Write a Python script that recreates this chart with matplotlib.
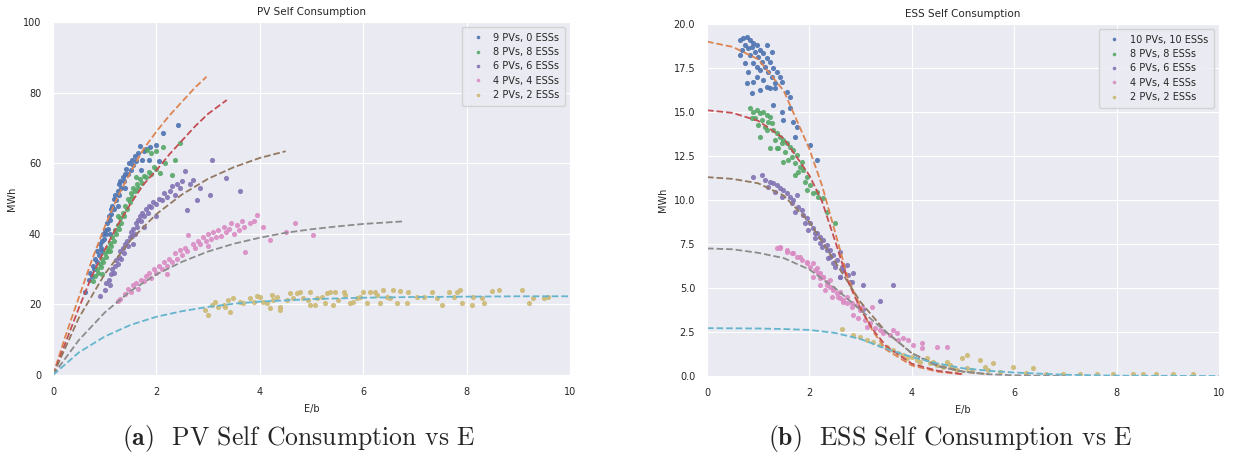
import matplotlib
matplotlib.use("Agg")
import matplotlib.pyplot as plt
import seaborn as sns

# -------------------- PV self consumption (left panel) --------------------
pv_labels = ["9 PVs, 0 ESSs", "8 PVs, 8 ESSs", "6 PVs, 6 ESSs", "4 PVs, 4 ESSs", "2 PVs, 2 ESSs"]

pv9_x = [0.62, 0.70, 0.72, 0.75, 0.78, 0.80, 0.82, 0.85, 0.86, 0.88, 0.90, 0.92, 0.95, 0.97, 0.98, 1.00, 1.02,
         1.05, 1.06, 1.08, 1.10, 1.12, 1.13, 1.15, 1.17, 1.18, 1.20, 1.22, 1.25, 1.27, 1.28, 1.30, 1.32, 1.35,
         1.37, 1.40, 1.42, 1.45, 1.47, 1.50, 1.52, 1.55, 1.58, 1.60, 1.65, 1.68, 1.72, 1.75, 1.80, 1.88, 2.00,
         2.13, 2.42, 1.10, 0.95, 1.25, 1.40, 1.70, 1.85, 2.05]
pv9_y = [23.5, 27, 29, 28, 31, 30, 33, 32, 35, 34, 37, 36, 38, 40, 38.5, 41, 40,
         43, 41.5, 45, 44, 47, 45.5, 48, 50, 47, 51, 49.5, 52, 54, 51, 55, 53, 56,
         55, 57, 58.5, 57, 60, 58, 61, 59.5, 62, 60.5, 63, 65, 61, 63.5, 64, 64.7, 65.2,
         68.5, 70.8, 40, 35, 48, 53, 58, 61, 60.5]

pv8_x = [0.78, 0.82, 0.85, 0.87, 0.90, 0.92, 0.95, 0.97, 1.00, 1.02, 1.05, 1.07, 1.10, 1.12, 1.15, 1.18, 1.20,
         1.22, 1.25, 1.28, 1.30, 1.32, 1.35, 1.38, 1.40, 1.43, 1.45, 1.48, 1.50, 1.53, 1.55, 1.58, 1.62, 1.65,
         1.68, 1.72, 1.75, 1.80, 1.85, 1.90, 1.95, 2.00, 1.81, 1.90, 2.00, 2.07, 2.13, 2.17, 2.30, 2.36, 2.46,
         1.25, 1.10, 0.95, 1.60]
pv8_y = [26.5, 28, 30, 29, 31.5, 30.5, 33, 32, 34.5, 33.5, 36, 35, 37.5, 36.5, 39, 38, 41,
         40, 42.5, 41.5, 44.5, 43, 46, 45, 48, 47, 50, 49, 51.5, 50.5, 53, 52, 54, 53,
         55.5, 54.5, 56.5, 56, 57.5, 57, 59, 58.5, 63.7, 63, 63.5, 57.1, 64.7, 60, 56.7, 60.9, 65.6,
         45, 35, 28.5, 56]

pv6_x = [0.90, 1.00, 1.02, 1.08, 1.10, 1.12, 1.15, 1.18, 1.20, 1.22, 1.25, 1.28, 1.30, 1.32, 1.35, 1.38, 1.40,
         1.43, 1.45, 1.48, 1.50, 1.53, 1.55, 1.58, 1.60, 1.63, 1.65, 1.68, 1.70, 1.73, 1.76, 1.80, 1.83, 1.86,
         1.90, 1.94, 2.00, 2.05, 2.10, 2.15, 2.20, 2.26, 2.30, 2.35, 2.40, 2.46, 2.50, 2.55, 2.59, 2.65, 2.71,
         2.78, 2.85, 3.04, 3.08, 3.35, 3.62, 1.55, 1.75, 2.00]
pv6_y = [22.5, 24, 26, 27, 25.5, 28.5, 30, 29, 31, 32.5, 31.5, 33.5, 35, 33, 36, 34.5, 37,
         38, 36.5, 39, 40.5, 39.5, 41.5, 40, 43, 42, 44, 45, 43.5, 46, 45, 47, 46, 48,
         47.5, 49, 48.5, 50, 49.5, 51.5, 50.5, 52, 53.5, 51, 54, 53, 55, 57.9, 46.7, 54, 55.2,
         49.6, 53, 51, 60.9, 55.7, 52.2, 37, 42, 45]

pv4_x = [1.25, 1.30, 1.40, 1.45, 1.50, 1.55, 1.60, 1.65, 1.70, 1.75, 1.80, 1.85, 1.90, 1.95, 2.00, 2.05, 2.10,
         2.15, 2.20, 2.25, 2.30, 2.35, 2.40, 2.45, 2.50, 2.55, 2.60, 2.62, 2.70, 2.75, 2.80, 2.85, 2.90, 2.95,
         3.00, 3.05, 3.10, 3.15, 3.20, 3.25, 3.30, 3.35, 3.40, 3.45, 3.50, 3.55, 3.60, 3.65, 3.70, 3.71, 3.80,
         3.88, 3.94, 4.07, 4.20, 4.51, 4.68, 5.03, 2.20, 3.00]
pv4_y = [21, 21.5, 23, 24.5, 23.5, 25.5, 26, 24.5, 27, 26.5, 28, 29, 27.5, 30, 29, 31, 30,
         32, 31, 33, 32, 34.5, 33, 35.5, 34, 36, 35, 39.7, 37, 36, 38, 37, 39, 38,
         40, 38.5, 40.5, 39, 41, 39.5, 42, 40.5, 41.5, 43, 40, 42.5, 41, 43.5, 42, 34.9, 43,
         43.7, 45.3, 42, 38.2, 40.6, 43.1, 39.7, 28.5, 36.5]

pv2_x = [2.94, 3.00, 3.07, 3.13, 3.20, 3.30, 3.33, 3.39, 3.42, 3.49, 3.62, 3.68, 3.81, 3.88, 3.94, 4.00, 4.07,
         4.13, 4.20, 4.23, 4.26, 4.33, 4.39, 4.39, 4.52, 4.59, 4.65, 4.71, 4.78, 4.84, 4.94, 4.97, 4.97, 5.07,
         5.10, 5.20, 5.26, 5.29, 5.36, 5.42, 5.46, 5.52, 5.62, 5.65, 5.75, 5.81, 5.88, 5.94, 6.00, 6.07, 6.13,
         6.23, 6.26, 6.33, 6.39, 6.46, 6.52, 6.58, 6.65, 6.71, 6.84, 6.87, 7.04, 7.17, 7.33, 7.42, 7.52, 7.65,
         7.75, 7.81, 7.87, 7.91, 8.10, 8.13, 8.29, 8.33, 8.49, 8.62, 9.07, 9.20, 9.29, 9.49, 9.58]
pv2_y = [18.4, 17.0, 19.8, 20.8, 19.4, 19.8, 19.2, 21.2, 17.9, 21.7, 20.8, 20.3, 21.7, 20.8, 22.4, 22.2, 20.8,
         20.3, 18.9, 22.7, 21.2, 22.2, 19.4, 18.4, 21.2, 23.1, 21.7, 23.1, 23.6, 21.7, 21.2, 23.6, 19.8, 19.8,
         21.7, 22.2, 20.3, 23.1, 23.6, 19.8, 23.6, 21.2, 23.6, 22.7, 20.3, 20.8, 21.7, 22.2, 23.6, 20.3, 23.6,
         23.6, 22.7, 20.3, 24.1, 22.2, 21.7, 24.1, 20.3, 23.9, 20.3, 23.6, 22.2, 22.2, 23.6, 21.7, 19.8, 23.6,
         22.2, 23.6, 24.1, 20.3, 19.8, 22.2, 21.7, 20.3, 23.9, 24.1, 24.1, 20.3, 21.7, 21.7, 22.2]

# fitted curves
pv9_fit_x = [0, 0.25, 0.5, 0.75, 1.0, 1.25, 1.5, 1.75, 2.0, 2.25, 2.5, 2.75, 2.97]
pv9_fit_y = [0, 11.5, 22, 32.5, 42, 50.5, 57.5, 64, 69, 73.5, 77.5, 81.5, 84.5]
pv8_fit_x = [0, 0.25, 0.5, 0.75, 1.0, 1.25, 1.5, 1.75, 2.0, 2.25, 2.5, 2.75, 3.0, 3.36]
pv8_fit_y = [0, 9.5, 19, 28, 35.5, 42.5, 48.5, 54, 58, 62.5, 66.5, 70.5, 74, 77.9]
pv6_fit_x = [0, 0.5, 1.0, 1.5, 2.0, 2.5, 3.0, 3.5, 4.0, 4.5]
pv6_fit_y = [0, 16.2, 28.6, 38.2, 45.6, 51.2, 55.6, 58.9, 61.5, 63.4]
pv4_fit_x = [0, 0.5, 1.0, 1.5, 2.0, 2.5, 3.0, 3.5, 4.0, 4.5, 5.0, 5.5, 6.0, 6.75]
pv4_fit_y = [0, 9.9, 17.7, 23.8, 28.5, 32.1, 35.0, 37.2, 38.9, 40.3, 41.3, 42.1, 42.8, 43.5]
pv2_fit_x = [0, 0.5, 1.0, 1.5, 2.0, 2.5, 3.0, 3.5, 4.0, 5.0, 6.0, 7.0, 8.0, 9.0, 10.0]
pv2_fit_y = [0, 6.4, 10.9, 14.2, 16.5, 18.1, 19.3, 20.2, 20.8, 21.5, 21.9, 22.1, 22.2, 22.3, 22.3]

# -------------------- ESS self consumption (right panel) --------------------
ess_labels = ["10 PVs, 10 ESSs", "8 PVs, 8 ESSs", "6 PVs, 6 ESSs", "4 PVs, 4 ESSs", "2 PVs, 2 ESSs"]

ess10_x = [0.645, 0.71, 0.775, 0.84, 0.905, 0.742, 0.807, 0.872, 0.97, 0.677, 0.938, 1.035, 1.10, 1.003, 0.84,
           1.165, 1.23, 1.068, 0.905, 0.742, 1.133, 1.296, 1.198, 1.035, 1.36, 1.426, 1.263, 1.10, 0.97, 1.458,
           1.328, 0.775, 0.905, 1.23, 1.035, 0.872, 1.556, 1.621, 1.165, 1.328, 1.296, 1.458, 1.491, 1.686,
           1.621, 1.751, 1.719, 2.012, 2.142, 0.645, 0.97, 0.807, 1.165, 1.263]
ess10_y = [19.09, 19.19, 19.24, 19.09, 18.90, 18.81, 18.62, 18.71, 18.81, 18.52, 18.43, 18.52, 18.33, 18.14, 18.24,
           18.05, 17.86, 17.86, 17.77, 17.77, 17.58, 17.48, 17.29, 17.39, 17.29, 17.01, 17.01, 16.82, 17.01, 16.72,
           16.63, 16.63, 16.72, 16.35, 16.25, 16.06, 16.16, 15.87, 16.44, 16.35, 15.40, 15.02, 14.55, 14.45,
           15.21, 14.17, 13.60, 13.13, 12.27, 18.24, 17.58, 17.29, 18.81, 18.43]

ess8_x = [0.84, 0.905, 0.97, 1.035, 1.10, 1.165, 1.23, 0.938, 1.068, 1.198, 0.872, 1.003, 1.133, 1.263, 1.035,
          1.296, 1.36, 1.426, 1.328, 1.491, 1.556, 1.393, 1.621, 1.686, 1.523, 1.751, 1.654, 1.589, 1.491, 1.719,
          1.817, 1.882, 1.784, 1.719, 1.947, 1.914, 2.012, 1.947, 2.077, 2.174, 2.142, 2.272, 2.337, 2.50,
          1.23, 1.36, 1.165, 1.458, 1.849]
ess8_y = [15.21, 15.02, 15.11, 14.93, 15.02, 14.83, 14.74, 14.64, 14.55, 14.45, 14.64, 14.26, 14.17, 14.36, 13.60,
          13.98, 13.79, 13.60, 13.41, 13.41, 13.22, 12.94, 13.03, 12.84, 12.75, 12.56, 12.46, 12.27, 12.18, 12.08,
          11.89, 11.70, 11.61, 11.42, 11.33, 11.04, 10.85, 10.57, 10.38, 10.19, 10.47, 10.10, 9.34, 8.67,
          12.94, 12.94, 13.98, 13.22, 12.18]

ess6_x = [0.905, 1.068, 1.133, 1.23, 1.296, 1.36, 1.198, 1.426, 1.491, 1.328, 1.556, 1.621, 1.458, 1.686, 1.751,
          1.654, 1.784, 1.849, 1.719, 1.882, 1.947, 2.012, 1.914, 2.077, 1.979, 2.142, 2.207, 2.109, 2.272, 2.337,
          2.24, 2.402, 2.37, 2.467, 2.533, 2.598, 2.50, 2.663, 2.598, 2.76, 2.826, 2.11, 2.21, 2.34, 2.40, 2.47,
          2.63, 2.73, 2.60, 2.79, 2.86, 3.05, 3.37, 3.64, 3.05]
ess6_y = [11.33, 11.42, 11.14, 11.04, 10.95, 10.85, 10.76, 10.66, 10.57, 10.47, 10.38, 10.19, 10.19, 10.00, 10.28,
          9.81, 9.62, 9.43, 9.34, 9.15, 8.96, 8.67, 8.67, 8.39, 8.30, 8.11, 7.92, 7.82, 7.73, 7.44,
          7.35, 7.16, 6.69, 6.88, 6.59, 7.07, 6.21, 6.02, 5.64, 5.74, 5.36, 8.10, 7.54, 7.16, 6.78, 6.40,
          6.21, 6.30, 5.64, 5.36, 5.83, 5.17, 4.28, 5.17, 3.80]

ess4_x = [1.36, 1.426, 1.556, 1.654, 1.751, 1.849, 1.947, 2.012, 2.109, 2.174, 2.077, 2.207, 2.272, 2.337, 2.207,
          2.402, 2.305, 2.467, 2.533, 2.435, 2.598, 2.663, 2.728, 2.826, 2.923, 3.02, 3.216,
          1.426, 1.556, 1.686, 1.817, 1.947, 2.077, 2.142, 2.207, 2.272, 2.402, 2.337, 2.468, 2.598, 2.565,
          2.663, 2.728, 2.826, 2.858, 2.988, 2.956, 3.086, 3.184, 3.119, 3.281, 3.379, 3.444, 3.574, 3.64,
          3.705, 3.737, 3.835, 3.932, 4.03, 4.193, 4.193, 4.486, 4.68]
ess4_y = [7.25, 7.35, 7.06, 6.97, 6.78, 6.59, 6.40, 6.21, 6.02, 5.83, 5.64, 5.55, 5.64, 5.36, 5.17,
          5.08, 4.89, 4.89, 4.70, 4.51, 4.41, 4.22, 4.51, 4.13, 4.03, 3.94, 3.94,
          7.25, 7.16, 6.97, 6.78, 6.50, 6.40, 6.12, 5.83, 5.64, 5.45, 5.17, 4.98, 4.79, 4.51,
          4.32, 4.13, 3.94, 3.47, 3.75, 3.28, 3.18, 2.99, 2.80, 2.71, 2.61, 2.42, 2.33, 2.61,
          2.42, 2.05, 2.14, 2.05, 1.76, 1.86, 1.57, 1.67, 1.67]

ess2_x = [2.63, 2.858, 2.988, 3.119, 3.249, 3.379, 3.509, 3.64, 3.737, 3.835, 3.90, 3.997, 4.095, 4.16, 4.29,
          4.356, 4.42, 4.486, 4.616, 4.68, 4.746, 4.811, 4.876, 4.974, 5.07, 5.07, 5.17, 5.33, 5.43, 5.495,
          5.59, 5.72, 5.98, 6.24, 6.37, 6.63, 6.96, 7.29, 7.61, 7.94, 8.33, 8.52, 8.78, 9.11, 9.50]
ess2_y = [2.67, 2.33, 2.24, 2.05, 1.95, 1.76, 1.67, 1.48, 1.29, 1.20, 1.00, 1.10, 0.91, 0.81, 1.00,
          0.72, 0.81, 0.62, 0.53, 0.81, 0.62, 0.43, 0.34, 1.00, 1.20, 0.43, 0.34, 0.91, 0.53, 0.34,
          0.72, 0.25, 0.53, 0.15, 0.43, 0.12, 0.10, 0.10, 0.10, 0.10, 0.10, 0.10, 0.10, 0.10, 0.10]

ess10_fit_x = [0, 0.5, 1.0, 1.5, 2.0, 2.25, 2.5, 2.75, 3.0, 3.25, 3.5, 4.0, 4.5, 5.0]
ess10_fit_y = [19.0, 18.7, 18.0, 16.2, 12.9, 10.8, 8.2, 5.6, 3.9, 2.5, 1.5, 0.6, 0.25, 0.1]
ess8_fit_x = [0, 0.5, 1.0, 1.5, 2.0, 2.25, 2.5, 2.75, 3.0, 3.25, 3.5, 4.0, 4.5, 5.0]
ess8_fit_y = [15.1, 14.95, 14.5, 13.5, 11.4, 9.9, 7.7, 5.4, 3.8, 2.6, 1.7, 0.7, 0.3, 0.1]
ess6_fit_x = [0, 0.5, 1.0, 1.5, 2.0, 2.5, 3.0, 3.5, 4.0, 4.5, 5.0, 5.5]
ess6_fit_y = [11.3, 11.2, 10.95, 10.25, 8.75, 6.5, 4.2, 2.5, 1.3, 0.6, 0.25, 0.1]
ess4_fit_x = [0, 0.5, 1.0, 1.5, 2.0, 2.5, 3.0, 3.5, 4.0, 4.5, 5.0, 5.5, 6.0, 7.0]
ess4_fit_y = [7.25, 7.2, 7.0, 6.7, 6.05, 5.0, 3.75, 2.5, 1.3, 0.55, 0.25, 0.1, 0.04, 0.0]
ess2_fit_x = [0, 1.0, 1.5, 2.0, 2.5, 3.0, 3.5, 4.0, 4.5, 5.0, 5.5, 6.0, 7.0, 8.0, 10.0]
ess2_fit_y = [2.72, 2.70, 2.67, 2.62, 2.45, 2.1, 1.55, 1.08, 0.72, 0.44, 0.3, 0.2, 0.07, 0.02, 0.0]


sns.set_style("darkgrid")
plt.rcParams['font.family'] = ['DejaVu Sans']
plt.rcParams['mathtext.fontset'] = 'cm'
pal = sns.color_palette("deep")

fig = plt.figure(figsize=(12.39, 4.58), dpi=100)
ax1 = fig.add_axes([0.0428, 0.1812, 0.4173, 0.7707])
ax2 = fig.add_axes([0.5706, 0.179, 0.4132, 0.7686])


def draw_panel(ax, scatters, fits, labels):
    for i, (xs, ys) in enumerate(scatters):
        ax.plot(xs, ys, 'o', ms=3.7, mew=0, alpha=0.9, color=pal[2 * i], label=labels[i])
    for i, (xs, ys) in enumerate(fits):
        ax.plot(xs, ys, '--', lw=1.3, color=pal[2 * i + 1])
    ax.set_xlim(0, 10)
    ax.set_xlabel('E/b', fontsize=7, labelpad=5)
    ax.set_ylabel('MWh', fontsize=7, labelpad=4)
    ax.tick_params(labelsize=7, pad=5)
    leg = ax.legend(loc='upper right', fontsize=7, markerscale=0.7, handletextpad=0.6,
                    borderpad=0.6, labelspacing=0.45, frameon=True)
    leg.get_frame().set_facecolor('#eaeaf2')
    leg.get_frame().set_edgecolor('#cccccc')


draw_panel(ax1,
           [(pv9_x, pv9_y), (pv8_x, pv8_y), (pv6_x, pv6_y), (pv4_x, pv4_y), (pv2_x, pv2_y)],
           [(pv9_fit_x, pv9_fit_y), (pv8_fit_x, pv8_fit_y), (pv6_fit_x, pv6_fit_y),
            (pv4_fit_x, pv4_fit_y), (pv2_fit_x, pv2_fit_y)],
           pv_labels)
ax1.set_ylim(0, 100)
ax1.set_title('PV Self Consumption', fontsize=7.5, pad=5)

draw_panel(ax2,
           [(ess10_x, ess10_y), (ess8_x, ess8_y), (ess6_x, ess6_y), (ess4_x, ess4_y), (ess2_x, ess2_y)],
           [(ess10_fit_x, ess10_fit_y), (ess8_fit_x, ess8_fit_y), (ess6_fit_x, ess6_fit_y),
            (ess4_fit_x, ess4_fit_y), (ess2_fit_x, ess2_fit_y)],
           ess_labels)
ax2.set_ylim(0, 20)
ax2.set_yticks([0, 2.5, 5, 7.5, 10, 12.5, 15, 17.5, 20])
ax2.set_yticklabels(['0.0', '2.5', '5.0', '7.5', '10.0', '12.5', '15.0', '17.5', '20.0'])
ax2.set_title('ESS Self Consumption', fontsize=7.5, pad=5)

# captions below each panel
fig.text(0.2413, 0.043, r'$\mathbf{(a)}$  PV Self Consumption vs E', fontsize=18.5,
         family='cmr10', ha='center', va='center')
fig.text(0.7667, 0.043, r'$\mathbf{(b)}$  ESS Self Consumption vs E', fontsize=18.5,
         family='cmr10', ha='center', va='center')

fig.savefig('out.png', dpi=100)
